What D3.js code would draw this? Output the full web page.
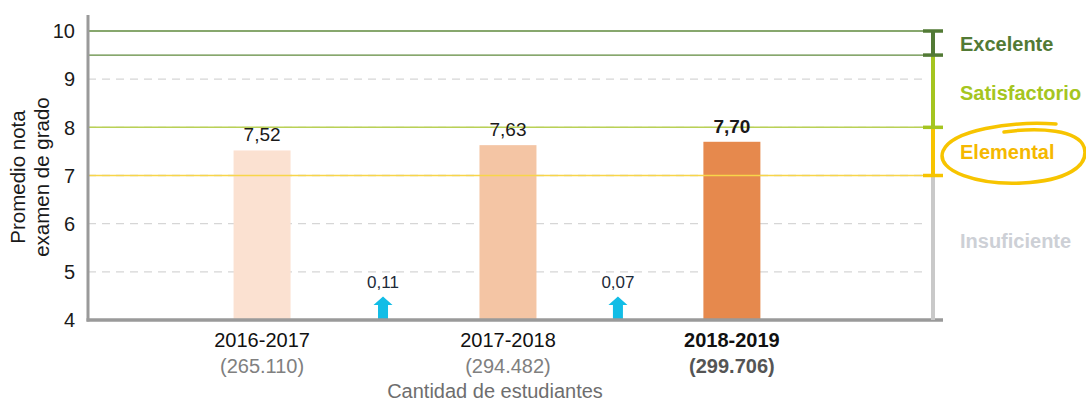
<!DOCTYPE html>
<html lang="es">
<head>
<meta charset="UTF-8">
<title>Promedio nota examen de grado</title>
<script src="https://d3js.org/d3.v7.min.js"></script>
<style>
  body { margin: 0; background: #fff; font-family: Arial, "Liberation Sans", sans-serif; }
</style>
</head>
<body>
<div id="chart"></div>
<script>
// data
const years = ["2016-2017", "2017-2018", "2018-2019"];
const students = ["(265.110)", "(294.482)", "(299.706)"];
const scores = [7.52, 7.63, 7.70];
const scoreLabels = ["7,52", "7,63", "7,70"];
const deltas = [0.11, 0.07];
const deltaLabels = ["0,11", "0,07"];
const yTicks = [4, 5, 6, 7, 8, 9, 10];
const levels = [
  { name: "Excelente", from: 9.5, to: 10, color: "#527a35" },
  { name: "Satisfactorio", from: 8, to: 9.5, color: "#a5c520" },
  { name: "Elemental", from: 7, to: 8, color: "#f7c400" },
  { name: "Insuficiente", from: 4, to: 7, color: "#c9c9c9" }
];
const labelColors = ["#527a35", "#a5c520", "#f5b800", "#cdd0d6"];
const barColors = ["#fbe1d1", "#f4c5a4", "#e6894d"];

const width = 1086, height = 403;
const mLeft = 88, mRight = 933, mTop = 15, mBottom = 320;

const svg = d3.select("#chart").append("svg")
  .attr("width", width).attr("height", height);

const y = d3.scaleLinear().domain([4, 10]).range([mBottom, 31]);
// bar slots are not evenly spaced in the original
const x = d3.scaleOrdinal().domain(years)
  .range([mLeft + (mRight - mLeft) * 0.206, mLeft + (mRight - mLeft) * 0.497, mLeft + (mRight - mLeft) * 0.762]);
const barW = 57;

// dashed grid
svg.append("g").selectAll("line")
  .data(yTicks.filter(d => d > 4 && d < 10))
  .join("line")
  .attr("x1", mLeft).attr("x2", mRight - 10)
  .attr("y1", d => y(d)).attr("y2", d => y(d))
  .attr("stroke", "#d6d6d6").attr("stroke-width", 1.3)
  .attr("stroke-dasharray", "8,6");

// bars
svg.append("g").selectAll("rect")
  .data(scores)
  .join("rect")
  .attr("x", (d, i) => x(years[i]) - barW / 2)
  .attr("width", barW)
  .attr("y", d => y(d))
  .attr("height", d => mBottom - y(d))
  .attr("fill", (d, i) => barColors[i]);

// threshold lines
const thresholds = [
  { v: 10, color: "#5f8a3c", w: 1.3 },
  { v: 9.5, color: "#5f8a3c", w: 1.3 },
  { v: 8, color: "#b9d155", w: 1.5 },
  { v: 7, color: "#f8d54a", w: 1.5 }
];
svg.append("g").selectAll("line")
  .data(thresholds)
  .join("line")
  .attr("x1", mLeft).attr("x2", mRight)
  .attr("y1", d => y(d.v)).attr("y2", d => y(d.v))
  .attr("stroke", d => d.color).attr("stroke-width", d => d.w);

// bar value labels
svg.append("g").selectAll("text")
  .data(scores)
  .join("text")
  .attr("x", (d, i) => x(years[i]))
  .attr("y", d => y(d) - 9)
  .attr("text-anchor", "middle")
  .attr("font-size", 19)
  .attr("font-weight", (d, i) => i === 2 ? "bold" : "normal")
  .attr("fill", "#1a1a1a")
  .text((d, i) => scoreLabels[i]);

// change arrows between bars
const arrowX = i => (x(years[i]) + x(years[i + 1])) / 2 - 2;
const arrows = svg.append("g").selectAll("g")
  .data(deltas)
  .join("g")
  .attr("transform", (d, i) => `translate(${arrowX(i)},${mBottom})`);
arrows.append("path")
  .attr("d", "M-5,0 L-5,-15 L-9.5,-15 L0,-23.5 L9.5,-15 L5,-15 L5,0 Z")
  .attr("fill", "#12bde6");
arrows.append("text")
  .attr("y", -32)
  .attr("text-anchor", "middle")
  .attr("font-size", 17)
  .attr("fill", "#1d2a38")
  .text((d, i) => deltaLabels[i]);

// axes
svg.append("line")
  .attr("x1", mLeft).attr("x2", mLeft)
  .attr("y1", mTop).attr("y2", mBottom + 1.5)
  .attr("stroke", "#9a9a9a").attr("stroke-width", 3);
svg.append("line")
  .attr("x1", mLeft - 1.5).attr("x2", mRight + 10)
  .attr("y1", mBottom).attr("y2", mBottom)
  .attr("stroke", "#9a9a9a").attr("stroke-width", 3.5);

// y tick labels
svg.append("g").selectAll("text")
  .data(yTicks)
  .join("text")
  .attr("x", mLeft - 13)
  .attr("y", d => y(d))
  .attr("dy", "0.36em")
  .attr("text-anchor", "end")
  .attr("font-size", 20)
  .attr("fill", "#1a1a1a")
  .text(d => d);

// y title
const yt = svg.append("text")
  .attr("transform", `translate(25,177) rotate(-90)`)
  .attr("text-anchor", "middle")
  .attr("font-size", 20.5)
  .attr("fill", "#1a1a1a");
yt.append("tspan").attr("x", 0).attr("dy", 0).text("Promedio nota");
yt.append("tspan").attr("x", 0).attr("dy", 24).text("examen de grado");

// x labels
const xl = svg.append("g").selectAll("g")
  .data(years)
  .join("g")
  .attr("transform", d => `translate(${x(d)},0)`);
xl.append("text")
  .attr("y", 347)
  .attr("text-anchor", "middle")
  .attr("font-size", 20)
  .attr("font-weight", (d, i) => i === 2 ? "bold" : "normal")
  .attr("fill", "#111")
  .text(d => d);
xl.append("text")
  .attr("y", 373)
  .attr("text-anchor", "middle")
  .attr("font-size", 20)
  .attr("font-weight", (d, i) => i === 2 ? "bold" : "normal")
  .attr("fill", (d, i) => i === 2 ? "#555" : "#808080")
  .text((d, i) => students[i]);
svg.append("text")
  .attr("x", 495).attr("y", 398)
  .attr("text-anchor", "middle")
  .attr("font-size", 20)
  .attr("fill", "#6e6e6e")
  .text("Cantidad de estudiantes");

// level bar on the right
const lv = svg.append("g");
lv.selectAll("line.seg")
  .data(levels)
  .join("line")
  .attr("class", "seg")
  .attr("x1", mRight).attr("x2", mRight)
  .attr("y1", d => y(d.to)).attr("y2", d => d.from === 4 ? mBottom : y(d.from))
  .attr("stroke", d => d.color).attr("stroke-width", 4);
const caps = [
  { v: 10, color: "#527a35" },
  { v: 9.5, color: "#527a35" },
  { v: 8, color: "#a5c520" },
  { v: 7, color: "#f7c400" }
];
lv.selectAll("line.cap")
  .data(caps)
  .join("line")
  .attr("class", "cap")
  .attr("x1", mRight - 10).attr("x2", mRight + 10)
  .attr("y1", d => y(d.v)).attr("y2", d => y(d.v))
  .attr("stroke", d => d.color).attr("stroke-width", 3.5);

const labelY = [44, 93, 152, 241];
lv.selectAll("text")
  .data(levels)
  .join("text")
  .attr("x", 960)
  .attr("y", (d, i) => labelY[i])
  .attr("dy", "0.36em")
  .attr("font-size", 20)
  .attr("font-weight", "bold")
  .attr("fill", (d, i) => labelColors[i])
  .text(d => d.name);

// hand-drawn circle around "Elemental"
lv.append("path")
  .attr("d", "M1056,124 C1010,121 952,130 943,151 C935,172 980,185 1022,183 C1066,181 1090,166 1084,147 C1078,130 1040,127 1004,132")
  .attr("fill", "none")
  .attr("stroke", "#f7c400")
  .attr("stroke-width", 3.5)
  .attr("stroke-linecap", "round");
</script>
</body>
</html>
